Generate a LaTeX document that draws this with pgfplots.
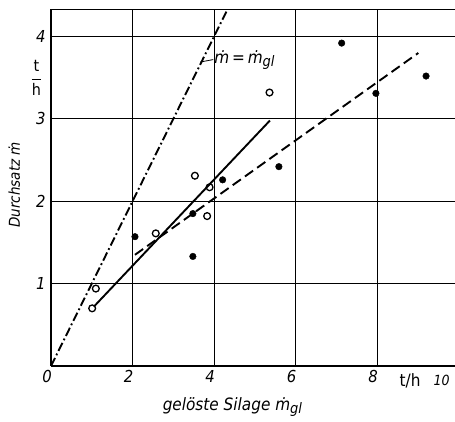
\documentclass[border=0pt]{standalone}
\usepackage{fontspec}
\usepackage{amsmath}
\setmainfont{DejaVu Sans Condensed}
\usepackage{pgfplots}
\pgfplotsset{compat=1.18}
\newcommand{\sub}[1]{\raisebox{-0.35ex}{\scalebox{0.85}{#1}}}
\begin{document}
\begin{tikzpicture}
\begin{axis}[
  scale only axis,
  width=404pt, height=357pt,
  xmin=0, xmax=9.91, ymin=0, ymax=4.334,
  xtick={0,2,4,6,8}, ytick={1,2,3,4},
  grid=major,
  grid style={black, line width=0.8pt},
  major tick length=0pt,
  axis x line*=bottom, axis y line*=left,
  axis line style={black, line width=1.6pt},
  clip=false,
  /pgf/number format/assume math mode=true,
  xticklabel style={font=\fontsize{16.5}{18}\selectfont\itshape, xshift=-4pt, yshift=-1pt},
  yticklabel style={font=\fontsize{16.5}{18}\selectfont\itshape, xshift=-2pt},
]
\addplot[black, line width=1.9pt, dash pattern=on 9pt off 3pt on 1.8pt off 3pt] coordinates {(0,0) (4.334,4.334)};
\addplot[black, line width=1.9pt] coordinates {(1.05,0.72) (5.37,2.98)};
\addplot[black, line width=1.9pt, dash pattern=on 10pt off 5pt] coordinates {(2.06,1.35) (9.01,3.80)};
\addplot[only marks, mark=o, mark size=3.4pt, mark options={line width=1.3pt, fill=white}] coordinates {
 (1.01,0.70) (1.10,0.94) (2.57,1.61) (3.83,1.82) (3.53,2.31) (3.89,2.17) (5.36,3.32)};
\addplot[only marks, mark=*, mark size=3.3pt, black] coordinates {
 (2.06,1.57) (3.48,1.33) (3.48,1.85) (4.21,2.26) (5.59,2.42) (7.13,3.92) (7.97,3.31) (9.20,3.52)};
\addplot[black, line width=0.8pt] coordinates {(3.66,3.69) (3.98,3.72)};
\draw[black, line width=0.8pt] (rel axis cs:0,1) -- (rel axis cs:1,1);
\node[anchor=west, font=\fontsize{17}{19}\selectfont\itshape, inner sep=1pt] at (axis cs:3.98,3.71) {ṁ\,=\,ṁ\sub{gl}};
\node[rotate=90, font=\fontsize{15}{17}\selectfont\itshape] at (axis cs:-0.9,2.2) {Durchsatz ṁ};
\node[font=\fontsize{16}{18}\selectfont] at (axis cs:-0.36,3.5) {$\dfrac{\text{t}}{\text{h}}$};
\node[font=\fontsize{17}{19}\selectfont\itshape] at (axis cs:4.45,-0.5) {gelöste Silage ṁ\sub{gl}};
\node[font=\fontsize{17}{19}\selectfont] at (axis cs:8.81,-0.18) {t/h};
\node[font=\fontsize{14}{16}\selectfont\itshape] at (axis cs:9.58,-0.18) {10};
\end{axis}
\pgfresetboundingbox
\useasboundingbox (-51pt,-56pt) rectangle (404pt,366pt);
\end{tikzpicture}
\end{document}
